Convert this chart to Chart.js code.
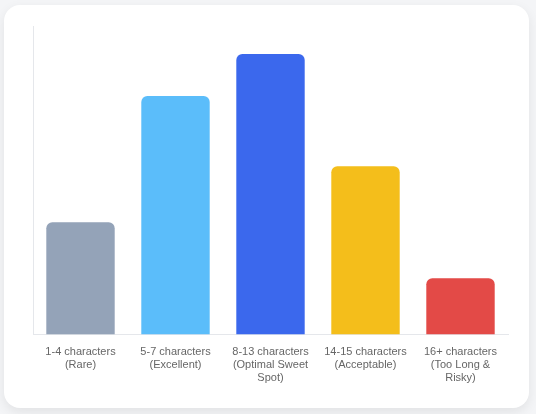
<!DOCTYPE html>
<html>
<head>
<meta charset="utf-8">
<script src="https://cdn.jsdelivr.net/npm/chart.js@4.4.1/dist/chart.umd.min.js"></script>
<style>
  html, body { margin: 0; padding: 0; background: #f4f5f7; width: 536px; height: 414px; overflow: hidden; }
  .card {
    position: absolute; left: 4px; top: 5px; width: 525px; height: 403px;
    background: #fff; border-radius: 16px;
    box-shadow: 0 4px 12px rgba(0, 0, 0, 0.08);
  }
  .chart-box { position: absolute; left: 0; top: 0; width: 525px; height: 403px; }
</style>
</head>
<body>
<div class="card">
  <div class="chart-box"><canvas id="lengthChart"></canvas></div>
</div>
<script>
// Username length distribution
const lengthLabels = [
  ["1-4 characters", "(Rare)"],
  ["5-7 characters", "(Excellent)"],
  ["8-13 characters", "(Optimal Sweet", "Spot)"],
  ["14-15 characters", "(Acceptable)"],
  ["16+ characters", "(Too Long &", "Risky)"],
];
const lengthValues = [8, 17, 20, 12, 4];
const barColors = ["#94a3b8", "#5bbdfa", "#3b68ed", "#f4be1b", "#e34a47"];
const yMax = 22;

Chart.defaults.font.family = "'Liberation Sans', Arial, sans-serif";
Chart.defaults.color = "#666";

new Chart(document.getElementById("lengthChart"), {
  type: "bar",
  data: {
    labels: lengthLabels,
    datasets: [{
      data: lengthValues,
      backgroundColor: barColors,
      borderRadius: 6,
      borderSkipped: "bottom",
    }],
  },
  options: {
    responsive: true,
    maintainAspectRatio: false,
    animation: false,
    layout: { padding: { left: 29, top: 21, right: 21, bottom: 20 } },
    plugins: { legend: { display: false }, tooltip: { enabled: false } },
    scales: {
      y: {
        min: 0,
        max: yMax,
        ticks: { display: false },
        grid: { display: false, drawTicks: false },
        border: { display: true, color: "#e5e7eb" },
      },
      x: {
        grid: { display: false },
        border: { display: true, color: "#e5e7eb" },
        ticks: { font: { size: 11 }, color: "#666", maxRotation: 0, autoSkip: false },
      },
    },
  },
});
</script>
</body>
</html>
